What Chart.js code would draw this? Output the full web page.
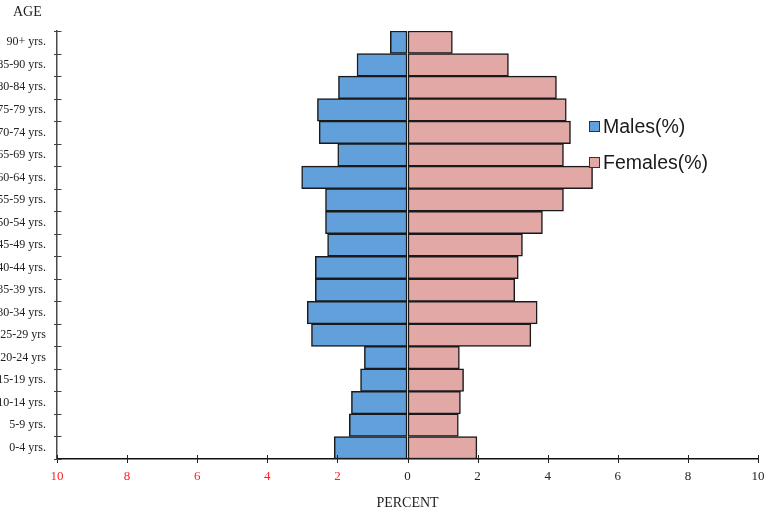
<!DOCTYPE html>
<html>
<head>
<meta charset="utf-8">
<script src="https://cdn.jsdelivr.net/npm/chart.js@4/dist/chart.umd.min.js"></script>
<style>
  html, body { margin: 0; padding: 0; background: #fff; overflow: hidden; }
  body { width: 769px; height: 515px; position: relative; }
  #wrap { position: absolute; left: -20px; top: 0; width: 789px; height: 515px; }
  #age { position: absolute; left: 13px; top: 4px; font: 14px "Liberation Serif", serif; color: #222; }
  #legend { position: absolute; left: 589px; top: 108px; font: 19.5px "Liberation Sans", Arial, sans-serif; color: #1a1a1a; }
  #legend div { height: 36px; display: flex; align-items: center; }
  #legend span.box { width: 9px; height: 9px; border: 1px solid #333; margin-right: 3px; display: inline-block; }
</style>
</head>
<body>
<div id="wrap"><canvas id="myChart" width="789" height="515"></canvas></div>
<div id="age">AGE</div>
<div id="legend"></div>
<script>
// age groups, top to bottom
var ageGroups = ['90+ yrs.', '85-90 yrs.', '80-84 yrs.', '75-79 yrs.', '70-74 yrs.', '65-69 yrs.',
  '60-64 yrs.', '55-59 yrs.', '50-54 yrs.', '45-49 yrs.', '40-44 yrs.', '35-39 yrs.',
  '30-34 yrs.', '25-29 yrs', '20-24 yrs', '15-19 yrs.', '10-14 yrs.', '5-9 yrs.', '0-4 yrs.'];

// percent of population
var males = [0.49, 1.44, 1.97, 2.57, 2.52, 1.99, 3.02, 2.34, 2.34, 2.28, 2.63, 2.63, 2.86, 2.74, 1.23, 1.34, 1.60, 1.66, 2.09];
var females = [1.28, 2.88, 4.25, 4.53, 4.65, 4.45, 5.28, 4.45, 3.85, 3.28, 3.16, 3.06, 3.70, 3.52, 1.48, 1.60, 1.51, 1.45, 1.98];

var xTicks = [-10, -8, -6, -4, -2, 0, 2, 4, 6, 8, 10];

// tick marks crossing both axes
var crossTicks = {
  id: 'crossTicks',
  afterDraw: function (chart) {
    var ctx = chart.ctx, a = chart.chartArea, x = chart.scales.x, y = chart.scales.y;
    ctx.save();
    ctx.lineWidth = 1;
    ctx.strokeStyle = '#222';
    ctx.beginPath();
    xTicks.forEach(function (v) {
      var px = Math.round(x.getPixelForValue(v)) + 0.5;
      ctx.moveTo(px, a.bottom - 4);
      ctx.lineTo(px, a.bottom + 4);
    });
    ctx.stroke();
    ctx.strokeStyle = '#444';
    ctx.beginPath();
    for (var i = 0; i <= ageGroups.length; i++) {
      var py = Math.round(y.getPixelForValue(i - 0.5)) + 0.5;
      ctx.moveTo(a.left - 3, py);
      ctx.lineTo(a.left + 4.5, py);
    }
    ctx.stroke();
    ctx.restore();
  }
};

var ctx = document.getElementById('myChart');
var myChart = new Chart(ctx, {
  type: 'bar',
  data: {
    labels: ageGroups,
    datasets: [{
      label: 'Males(%)',
      data: males.map(function (v) { return -v; }),
      backgroundColor: '#62a0dc',
      borderColor: '#1a1a1a',
      borderWidth: 1.5,
      borderSkipped: false
    }, {
      label: 'Females(%)',
      data: females,
      backgroundColor: '#e2a8a6',
      borderColor: '#1a1a1a',
      borderWidth: 1.5,
      borderSkipped: false
    }]
  },
  options: {
    indexAxis: 'y',
    responsive: false,
    animation: false,
    devicePixelRatio: 1,
    barPercentage: 1,
    categoryPercentage: 1,
    layout: { padding: { left: 0, top: 31, right: 11, bottom: 3 } },
    scales: {
      x: {
        stacked: true,
        min: -10,
        max: 10,
        afterBuildTicks: function (scale) {
          scale.ticks = xTicks.map(function (v) { return { value: v }; });
        },
        afterFit: function (scale) {
          scale.height = 53;
          scale.paddingLeft = 0;
          scale.paddingRight = 0;
        },
        grid: { drawOnChartArea: false, drawTicks: false },
        border: { display: true, color: '#111', width: 1.5 },
        ticks: {
          padding: 10,
          maxRotation: 0,
          font: { family: 'Liberation Serif', size: 13 },
          color: function (c) { return c.tick.value < 0 ? '#ff2020' : '#222'; },
          callback: function (v) { return Math.abs(v); }
        },
        title: {
          display: true,
          text: 'PERCENT',
          font: { family: 'Liberation Serif', size: 14 },
          color: '#222',
          padding: { top: 0, bottom: 0 }
        }
      },
      y: {
        stacked: true,
        afterFit: function (scale) { scale.width = 77; },
        grid: { drawOnChartArea: false, drawTicks: false },
        border: { display: true, color: '#4a4a4a', width: 1.5 },
        ticks: {
          padding: 11,
          autoSkip: false,
          font: { family: 'Liberation Serif', size: 12 },
          color: '#222'
        }
      }
    },
    plugins: {
      legend: { display: false },
      tooltip: { enabled: false }
    }
  },
  plugins: [crossTicks]
});

// html legend from the datasets
var legend = document.getElementById('legend');
myChart.data.datasets.forEach(function (ds) {
  var row = document.createElement('div');
  var box = document.createElement('span');
  box.className = 'box';
  box.style.background = ds.backgroundColor;
  row.appendChild(box);
  row.appendChild(document.createTextNode(ds.label));
  legend.appendChild(row);
});
</script>
</body>
</html>
